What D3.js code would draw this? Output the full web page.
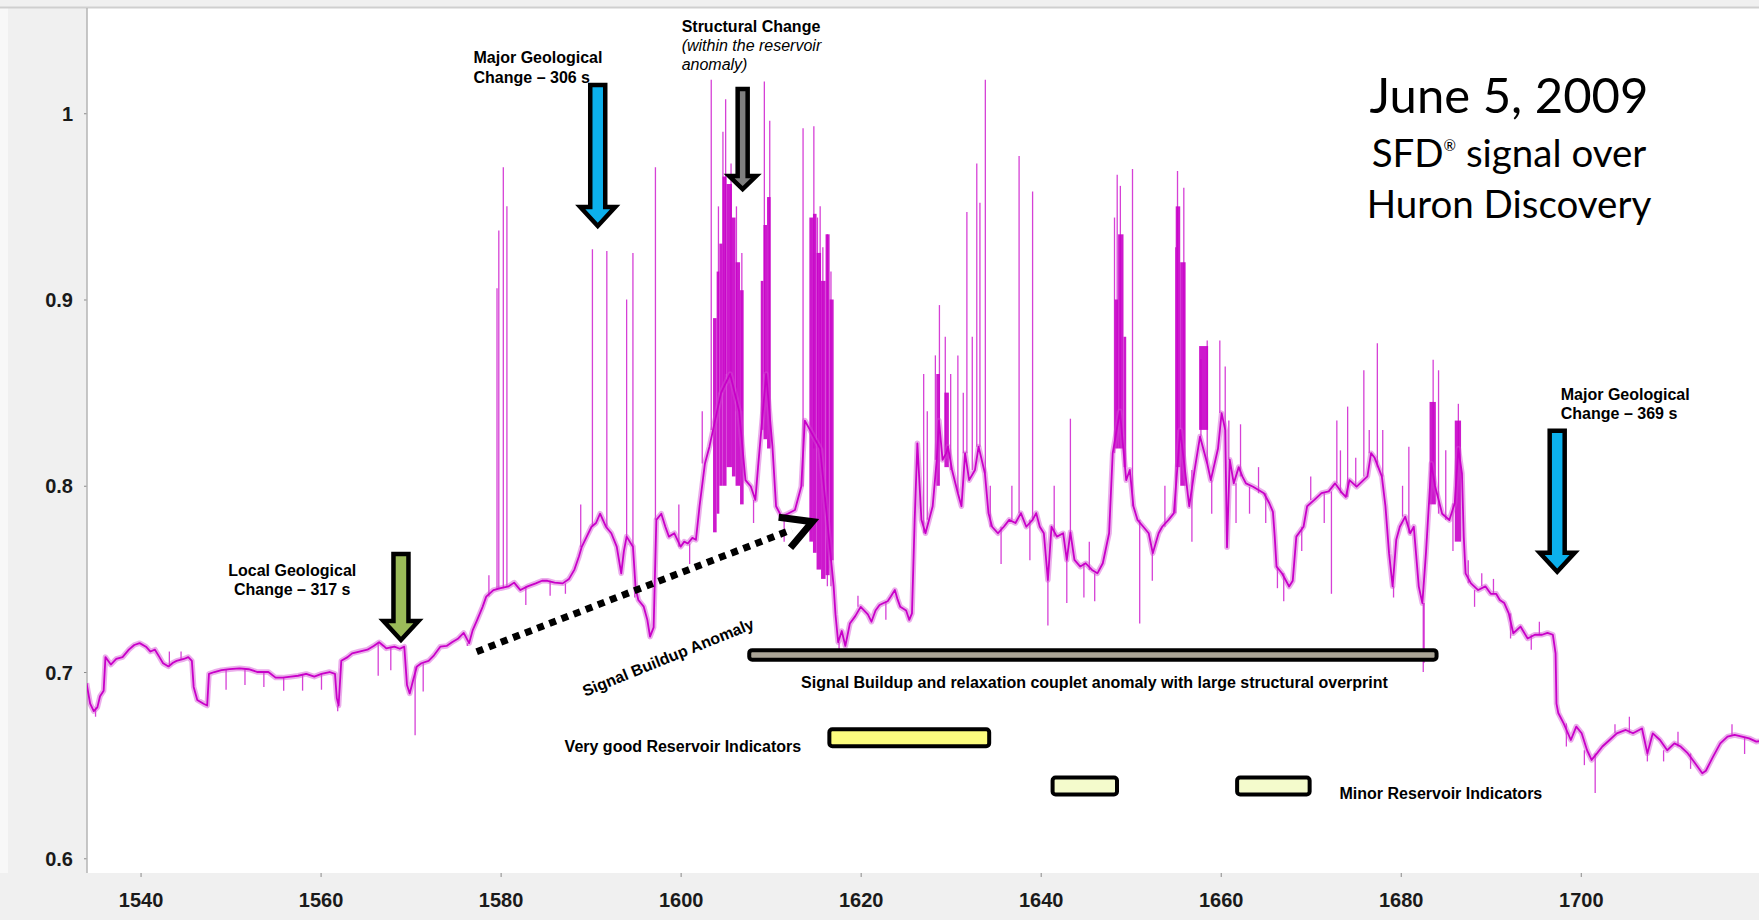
<!DOCTYPE html>
<html>
<head>
<meta charset="utf-8">
<script src="https://cdn.jsdelivr.net/npm/d3@7"></script>
<style>
body { margin: 0; background: #f0f0f0; }
svg { display: block; }
.tick text { font-family: "Liberation Sans", Arial, sans-serif; font-weight: bold; font-size: 20px; fill: #1a1a1a; }
.note { font-family: "Liberation Sans", Arial, sans-serif; font-weight: bold; font-size: 16px; fill: #000; }
.title { font-family: Lato, "Open Sans", sans-serif; fill: #000; text-anchor: middle; }
</style>
</head>
<body>
<div id="chart"></div>
<script>
// SFD signal, [seconds, value]
var sfdTrace = [
    [1534.0,0.694],[1534.4,0.683],[1534.8,0.679],[1535.2,0.681],[1535.5,0.687],[1535.9,0.690],
    [1536.1,0.708],[1536.7,0.704],[1537.3,0.707],[1538.0,0.708],[1538.7,0.712],[1539.3,0.7145],
    [1539.9,0.7155],[1540.6,0.7136],[1541.1,0.711],[1541.6,0.712],[1542.1,0.708],[1542.5,0.7047],
    [1543.1,0.703],[1543.6,0.705],[1544.0,0.706],[1544.8,0.707],[1545.3,0.708],[1545.7,0.706],
    [1545.9,0.692],[1546.3,0.685],[1547.0,0.683],[1547.4,0.682],[1547.6,0.699],[1548.2,0.700],
    [1549.0,0.701],[1549.9,0.7015],[1551.0,0.702],[1552.0,0.7015],[1553.0,0.700],[1554.2,0.700],
    [1555.0,0.697],[1555.8,0.697],[1556.7,0.6975],[1557.5,0.698],[1558.4,0.699],[1559.3,0.6975],
    [1560.1,0.699],[1561.0,0.700],[1561.6,0.699],[1561.8,0.686],[1562.0,0.682],[1562.3,0.706],
    [1563.0,0.708],[1563.5,0.710],[1564.3,0.711],[1565.2,0.712],[1565.9,0.714],[1566.5,0.716],
    [1567.0,0.714],[1567.3,0.7127],[1568.2,0.7136],[1568.8,0.7125],[1569.3,0.7136],[1569.6,0.693],
    [1569.9,0.6885],[1570.3,0.696],[1570.7,0.703],[1571.2,0.7047],[1572.0,0.706],[1572.6,0.709],
    [1573.3,0.7136],[1574.0,0.714],[1574.6,0.716],[1575.3,0.718],[1575.9,0.721],[1576.5,0.7155],
    [1576.9,0.7225],[1577.4,0.728],[1578.0,0.735],[1578.4,0.7405],[1579.2,0.744],[1580.0,0.745],
    [1580.9,0.746],[1581.5,0.748],[1582.2,0.744],[1583.0,0.746],[1583.9,0.7476],[1584.6,0.749],
    [1585.2,0.749],[1586.0,0.748],[1586.9,0.7476],[1587.6,0.750],[1588.2,0.755],[1588.7,0.762],
    [1589.0,0.767],[1589.5,0.772],[1590.1,0.778],[1590.6,0.780],[1591.05,0.785],[1591.7,0.778],
    [1592.3,0.7745],[1592.9,0.7673],[1593.4,0.753],[1593.7,0.765],[1594.0,0.7727],[1594.7,0.7673],
    [1595.0,0.745],[1595.3,0.7387],[1595.9,0.7351],[1596.3,0.728],[1596.6,0.719],[1597.0,0.724],
    [1597.3,0.7817],[1597.85,0.785],[1598.3,0.778],[1598.7,0.7727],[1599.3,0.7745],[1600.0,0.7673],
    [1600.4,0.770],[1600.8,0.769],[1601.3,0.772],[1601.7,0.771],[1602.1,0.789],[1602.7,0.812],
    [1603.2,0.821],[1603.6,0.83],[1604.5,0.85],[1605.5,0.86],[1606.5,0.84],[1607.2,0.803],
    [1607.8,0.7996],[1608.3,0.7924],[1608.6,0.81],[1609.5,0.86],[1610.2,0.821],[1610.6,0.789],
    [1611.2,0.7835],[1611.9,0.785],[1612.7,0.787],[1613.4,0.7996],[1613.8,0.835],[1615.5,0.82],
    [1617.0,0.746],[1617.2,0.731],[1617.5,0.716],[1617.9,0.722],[1618.3,0.714],[1618.8,0.726],
    [1619.4,0.730],[1620.0,0.735],[1620.8,0.731],[1621.2,0.727],[1621.65,0.733],[1622.1,0.736],
    [1622.5,0.7369],[1623.0,0.738],[1623.35,0.7405],[1623.8,0.744],[1624.1,0.739],[1624.4,0.735],
    [1625.05,0.733],[1625.4,0.728],[1625.7,0.7315],[1626.0,0.7817],[1626.3,0.8228],
    [1626.75,0.7817],[1627.2,0.7745],[1627.6,0.7817],[1628.0,0.789],[1628.45,0.8139],[1628.7,0.835],
    [1629.1,0.8139],[1629.5,0.8175],[1629.7,0.821],[1630.15,0.8085],[1630.8,0.796],[1631.2,0.789],
    [1631.6,0.8175],[1632.05,0.803],[1632.7,0.8085],[1633.1,0.821],[1633.8,0.8067],[1634.2,0.7853],
    [1634.6,0.778],[1635.25,0.7745],[1635.9,0.778],[1636.5,0.7817],[1637.2,0.780],[1637.8,0.7853],
    [1638.4,0.778],[1639.1,0.7817],[1639.5,0.7853],[1639.9,0.778],[1640.35,0.7745],[1640.8,0.7494],
    [1641.2,0.778],[1641.8,0.7727],[1642.5,0.7745],[1642.9,0.7602],[1643.3,0.775],[1643.75,0.7602],
    [1644.4,0.7566],[1645.0,0.7584],[1645.7,0.7548],[1646.3,0.753],[1646.9,0.7584],[1647.6,0.7745],
    [1648.0,0.8175],[1648.8,0.84],[1649.5,0.803],[1649.9,0.8085],[1650.3,0.789],[1650.75,0.7817],
    [1651.4,0.778],[1652.0,0.7745],[1652.45,0.7638],[1653.1,0.7745],[1653.5,0.778],[1654.2,0.7817],
    [1654.8,0.7853],[1655.5,0.83],[1656.5,0.789],[1657.1,0.8085],[1657.7,0.8264],[1658.5,0.812],
    [1658.9,0.803],[1659.7,0.82],[1660.1,0.839],[1660.5,0.83],[1660.7,0.767],[1661.0,0.814],
    [1661.45,0.8013],[1662.0,0.81],[1662.4,0.805],[1662.8,0.8013],[1663.6,0.7995],[1664.8,0.796],
    [1665.4,0.7906],[1665.8,0.786],[1666.0,0.7727],[1666.2,0.7566],[1666.8,0.753],[1667.6,0.7459],
    [1668.0,0.749],[1668.4,0.7727],[1669.2,0.778],[1669.6,0.789],[1670.4,0.7924],[1671.2,0.796],
    [1672.0,0.797],[1672.7,0.8013],[1673.5,0.796],[1673.9,0.794],[1674.3,0.803],[1675.1,0.7995],
    [1676.3,0.805],[1676.7,0.8175],[1677.1,0.815],[1677.5,0.810],[1677.9,0.805],[1678.3,0.789],
    [1678.7,0.7638],[1679.1,0.746],[1679.5,0.771],[1679.9,0.778],[1680.5,0.7834],[1681.05,0.7745],
    [1681.45,0.778],[1682.0,0.746],[1682.4,0.737],[1682.8,0.7638],[1683.4,0.812],[1683.8,0.800],
    [1684.6,0.785],[1685.4,0.7816],[1686.0,0.7906],[1686.4,0.820],[1686.8,0.8067],[1687.0,0.7727],
    [1687.2,0.753],[1687.8,0.7476],[1688.6,0.744],[1689.4,0.746],[1690.0,0.742],[1690.6,0.742],
    [1691.0,0.7387],[1691.5,0.737],[1692.0,0.7315],[1692.5,0.7208],[1693.3,0.7244],[1694.1,0.718],
    [1694.9,0.720],[1695.7,0.720],[1696.3,0.721],[1696.9,0.720],[1697.2,0.710],[1697.3,0.683],
    [1697.5,0.678],[1698.1,0.6724],[1698.9,0.6635],[1699.5,0.6707],[1700.1,0.6671],[1700.7,0.658],
    [1701.2,0.6528],[1701.8,0.6563],[1702.4,0.660],[1703.2,0.6635],[1704.0,0.6671],[1705.0,0.6689],
    [1705.8,0.6671],[1706.8,0.6697],[1707.4,0.6563],[1708.0,0.6671],[1708.8,0.6635],[1709.6,0.658],
    [1710.4,0.6617],[1711.1,0.660],[1711.9,0.6563],[1712.7,0.651],[1713.5,0.6456],[1713.9,0.647],
    [1714.7,0.6546],[1715.5,0.6617],[1716.3,0.6653],[1717.1,0.6662],[1717.9,0.6653],[1718.7,0.6644],
    [1719.5,0.6626],[1720.0,0.663]
];

// single-sample spikes, [seconds, peak value]
var sfdSpikes = [
    [1535.0,0.676],[1543.2,0.711],[1544.5,0.711],[1549.5,0.6905],[1551.6,0.693],[1553.7,0.692],
    [1555.9,0.690],[1558.0,0.690],[1560.1,0.6905],[1561.9,0.679],[1566.4,0.698],[1567.8,0.701],
    [1570.5,0.666],[1571.4,0.6895],[1576.3,0.714],[1578.7,0.752],[1579.6,0.906],[1579.8,0.937],
    [1580.3,0.971],[1580.7,0.950],[1582.8,0.736],[1585.5,0.741],[1587.2,0.742],
    [1588.9,0.79],[1590.2,0.927],[1591.8,0.926],[1594.0,0.900],[1594.7,0.925],[1594.9,0.740],
    [1597.2,0.971],[1599.8,0.79],[1601.0,0.758],[1602.4,0.84],[1603.4,1.018],[1604.2,0.95],
    [1604.7,0.99],[1605.0,1.0075],[1605.6,0.973],[1606.2,0.95],
    [1606.8,0.925],[1608.1,0.78],[1609.3,1.017],[1609.9,0.996],[1611.5,0.77],[1613.6,0.992],
    [1614.8,0.993],[1615.2,0.944],[1615.5,0.95],
    [1615.8,0.928],[1616.3,0.935],[1616.7,0.915],[1617.6,0.712],[1619.7,0.741],[1622.8,0.728],
    [1627.0,0.86],[1627.4,0.84],[1628.3,0.87],[1628.75,0.897],
    [1629.4,0.88],[1630.0,0.86],[1630.8,0.87],[1631.4,0.85],[1631.8,0.947],[1632.4,0.88],
    [1632.9,0.973],[1633.25,0.952],[1633.85,1.018],[1634.4,0.80],[1635.6,0.758],[1636.8,0.80],
    [1637.6,0.977],[1638.8,0.76],[1639.1,0.958],[1640.8,0.725],
    [1641.5,0.80],[1642.9,0.737],[1643.3,0.836],[1644.8,0.74],[1645.4,0.77],[1646.0,0.738],
    [1648.2,0.944],[1648.5,0.967],[1648.85,0.961],[1650.2,0.970],
    [1651.0,0.726],[1652.4,0.749],[1653.8,0.80],[1655.0,0.928],[1655.2,0.969],[1655.9,0.960],
    [1656.8,0.77],[1657.8,0.868],[1658.5,0.878],
    [1659.0,0.785],[1659.9,0.878],[1660.5,0.864],[1660.9,0.835],[1661.7,0.78],[1662.2,0.833],
    [1663.2,0.785],[1664.2,0.81],[1665.0,0.78],[1666.3,0.745],[1667.0,0.738],[1669.0,0.765],
    [1670.0,0.805],[1671.5,0.78],[1672.3,0.742],
    [1672.9,0.835],[1673.3,0.819],[1674.1,0.8425],[1675.0,0.815],[1675.9,0.862],[1676.5,0.83],
    [1677.4,0.8765],[1678.0,0.83],[1679.2,0.740],[1680.2,0.80],[1680.9,0.821],
    [1682.5,0.700],[1682.6,0.705],[1683.6,0.8676],[1684.2,0.862],[1685.0,0.819],[1685.8,0.765],
    [1686.4,0.844],[1687.5,0.76],[1688.2,0.735],[1689.0,0.753],[1690.3,0.75],[1692.2,0.718],
    [1694.5,0.712],[1695.4,0.727],[1698.4,0.66],[1700.4,0.65],[1701.6,0.635],[1703.8,0.672],
    [1705.4,0.676],[1707.4,0.652],[1709.2,0.652],[1710.8,0.668],[1712.2,0.648],[1716.8,0.672],
    [1718.2,0.656]
];

// dense bursts, [start s, end s, low, high]
var sfdBursts = [
    [1603.6,1604.0,0.775,0.89],[1604.0,1604.3,0.785,0.915],[1604.3,1604.65,0.80,0.93],
    [1604.65,1605.1,0.80,0.966],[1605.1,1605.7,0.81,0.962],[1605.7,1606.1,0.805,0.944],
    [1606.1,1606.6,0.80,0.92],[1606.6,1607.0,0.79,0.905],
    [1608.9,1609.2,0.83,0.91],[1609.2,1609.6,0.825,0.94],[1609.6,1610.0,0.82,0.955],
    [1614.3,1614.7,0.77,0.944],[1614.7,1615.1,0.764,0.946],[1615.1,1615.6,0.755,0.925],
    [1615.6,1616.1,0.75,0.91],[1616.1,1616.55,0.752,0.935],[1616.55,1617.0,0.76,0.90],
    [1628.4,1628.8,0.80,0.86],[1629.3,1629.8,0.81,0.85],
    [1648.2,1648.6,0.82,0.90],[1648.6,1649.2,0.82,0.935],[1649.2,1649.5,0.81,0.88],
    [1655.0,1655.5,0.81,0.95],[1655.5,1656.1,0.80,0.92],
    [1657.6,1658.6,0.83,0.875],[1683.2,1683.9,0.79,0.845],[1686.0,1686.7,0.77,0.835]
];

var xTicks = [1540, 1560, 1580, 1600, 1620, 1640, 1660, 1680, 1700];
var yTicks = [0.6, 0.7, 0.8, 0.9, 1];

// interval bars: [start s, end s, level, kind]
var bars = [
    [1607.4, 1684.2, 0.7092, "couplet"],
    [1616.3, 1634.5, 0.6647, "good"],
    [1641.1, 1648.7, 0.6388, "minor"],
    [1661.6, 1670.1, 0.6388, "minor"]
];
var barFill = {couplet: "#aaa496", good: "#fcfc7e", minor: "#f4fbcc"};
var barHeight = {couplet: 9.5, good: 17, minor: 17};

// block arrows: [seconds, top value, tip value, colour, size]
var arrows = [
    [1590.79, 1.0163, 0.9379, "#0cb0ec", "big"],
    [1606.89, 1.0141, 0.9577, "#7f7f7f", "small"],
    [1568.93, 0.7645, 0.7156, "#9bbb59", "big"],
    [1697.38, 0.8306, 0.7522, "#0cb0ec", "big"]
];

// notes: [seconds, value, lines, anchor]
var notes = [
    [1576.99, 1.0268, ["Major Geological", "Change \u2013 306 s"], "start"],
    [1556.85, 0.7516, ["Local Geological", "Change \u2013 317 s"], "middle"],
    [1697.78, 0.8461, ["Major Geological", "Change \u2013 369 s"], "start"],
    [1613.38, 0.6913, ["Signal Buildup and relaxation couplet anomaly with large structural overprint"], "start"],
    [1587.11, 0.6572, ["Very good Reservoir Indicators"], "start"],
    [1673.2, 0.6318, ["Minor Reservoir Indicators"], "start"]
];

var W = 1759, H = 920;
var margin = {top: 8, right: 0, bottom: 47, left: 87};

var svg = d3.select("#chart").append("svg")
    .attr("width", W)
    .attr("height", H);

var x = d3.scaleLinear().domain([1534.05, 1719.8]).range([margin.left, W - margin.right]);
var y = d3.scaleLinear().domain([0.5921, 1.0565]).range([H - margin.bottom, margin.top]);

svg.append("rect").attr("x", 0).attr("y", 0).attr("width", W).attr("height", H).style("fill", "#f0f0f0");
svg.append("rect").attr("x", 0).attr("y", margin.top).attr("width", 8).attr("height", H - margin.top - margin.bottom)
    .style("fill", "#f8f8f8");
svg.append("rect")
    .attr("x", margin.left).attr("y", margin.top)
    .attr("width", W - margin.left - margin.right)
    .attr("height", H - margin.top - margin.bottom)
    .style("fill", "#fff");
svg.append("line")
    .attr("x1", 0).attr("x2", W).attr("y1", margin.top - 0.5).attr("y2", margin.top - 0.5)
    .style("stroke", "#cfcfcf").style("stroke-width", 2);

svg.append("clipPath").attr("id", "plot-clip")
    .append("rect")
    .attr("x", margin.left).attr("y", margin.top)
    .attr("width", W - margin.left - margin.right)
    .attr("height", H - margin.top - margin.bottom);

// axes
var xAxis = svg.append("g")
    .attr("transform", "translate(0," + (H - margin.bottom) + ")")
    .call(d3.axisBottom(x).tickValues(xTicks).tickSize(4).tickPadding(15.5).tickFormat(d3.format("d")));
xAxis.select(".domain").remove();
xAxis.selectAll(".tick line").style("stroke", "#8a8a8a");

var yAxis = svg.append("g")
    .attr("transform", "translate(" + margin.left + ",0)")
    .call(d3.axisLeft(y).tickValues(yTicks).tickSize(3).tickPadding(11).tickFormat(function(d) { return d3.format("~g")(d); }));
yAxis.select(".domain").remove();
yAxis.selectAll(".tick line").style("stroke", "#8a8a8a");
yAxis.selectAll(".tick text").attr("dy", "0.36em");

svg.append("line")
    .attr("x1", margin.left).attr("x2", margin.left)
    .attr("y1", margin.top).attr("y2", H - margin.bottom)
    .style("stroke", "#b4b4b4").style("stroke-width", 1.5);

// signal
var plot = svg.append("g").attr("clip-path", "url(#plot-clip)");
var magenta = "#c800c8";

var bisect = d3.bisector(function(d) { return d[0]; }).left;
function baseAt(t) {
    var i = Math.min(bisect(sfdTrace, t), sfdTrace.length - 1);
    var a = sfdTrace[Math.max(i - 1, 0)], b = sfdTrace[i];
    return (t - a[0] < b[0] - t) ? a[1] : b[1];
}

plot.selectAll(".spike")
    .data(sfdSpikes)
    .enter().append("line")
    .attr("class", "spike")
    .attr("x1", function(d) { return x(d[0]); })
    .attr("x2", function(d) { return x(d[0]); })
    .attr("y1", function(d) { return y(baseAt(d[0])); })
    .attr("y2", function(d) { return y(d[1]); })
    .style("stroke", magenta)
    .style("stroke-opacity", 0.75)
    .style("stroke-width", 1.3);

plot.selectAll(".burst")
    .data(sfdBursts)
    .enter().append("rect")
    .attr("class", "burst")
    .attr("x", function(d) { return x(d[0]); })
    .attr("width", function(d) { return x(d[1]) - x(d[0]); })
    .attr("y", function(d) { return y(d[3]); })
    .attr("height", function(d) { return y(d[2]) - y(d[3]); })
    .style("fill", magenta)
    .style("fill-opacity", 0.9);

var line = d3.line()
    .x(function(d) { return x(d[0]); })
    .y(function(d) { return y(d[1]); });

plot.append("path")
    .datum(sfdTrace)
    .attr("d", line)
    .style("fill", "none")
    .style("stroke", "#d24ad2")
    .style("stroke-opacity", 0.45)
    .style("stroke-width", 5.5)
    .style("stroke-linejoin", "round");

plot.append("path")
    .datum(sfdTrace)
    .attr("d", line)
    .style("fill", "none")
    .style("stroke", magenta)
    .style("stroke-width", 1.8)
    .style("stroke-linejoin", "round");

// interval bars
svg.selectAll(".bar")
    .data(bars)
    .enter().append("rect")
    .attr("class", "bar")
    .attr("x", function(d) { return x(d[0]) + 2; })
    .attr("width", function(d) { return x(d[1]) - x(d[0]) - 4; })
    .attr("y", function(d) { return y(d[2]) - barHeight[d[3]] / 2; })
    .attr("height", function(d) { return barHeight[d[3]]; })
    .attr("rx", 3)
    .style("fill", function(d) { return barFill[d[3]]; })
    .style("stroke", "#000")
    .style("stroke-width", 4);

// block arrows
var arrowSize = {big: {shaft: 7.5, head: 17.5, len: 19}, small: {shaft: 5, head: 13.5, len: 13}};
svg.selectAll(".arrow")
    .data(arrows)
    .enter().append("path")
    .attr("class", "arrow")
    .attr("d", function(d) {
        var s = arrowSize[d[4]], cx = x(d[0]), top = y(d[1]) + 2, tip = y(d[2]) - 3, hy = tip - s.len;
        return "M" + (cx - s.shaft) + "," + top + "H" + (cx + s.shaft) + "V" + hy + "H" + (cx + s.head) +
            "L" + cx + "," + tip + "L" + (cx - s.head) + "," + hy + "H" + (cx - s.shaft) + "Z";
    })
    .style("fill", function(d) { return d[3]; })
    .style("stroke", "#000")
    .style("stroke-width", 4.5)
    .style("stroke-linejoin", "miter");

// dotted buildup arrow
var dotFrom = [1577.34, 0.7109], dotTo = [1614.64, 0.7807];
var x0 = x(dotFrom[0]), y0 = y(dotFrom[1]), x1 = x(dotTo[0]), y1 = y(dotTo[1]);
var ang = Math.atan2(y1 - y0, x1 - x0);
svg.append("line")
    .attr("x1", x0).attr("y1", y0)
    .attr("x2", x1 - 22 * Math.cos(ang)).attr("y2", y1 - 22 * Math.sin(ang))
    .style("stroke", "#000")
    .style("stroke-width", 7)
    .style("stroke-dasharray", "7,6");
var back = ang + Math.PI, armLen = 34, spread = 0.5;
svg.append("path")
    .attr("d", "M" + (x1 + armLen * Math.cos(back - spread)) + "," + (y1 + armLen * Math.sin(back - spread)) +
        "L" + x1 + "," + y1 +
        "L" + (x1 + armLen * Math.cos(back + spread)) + "," + (y1 + armLen * Math.sin(back + spread)))
    .style("fill", "none")
    .style("stroke", "#000")
    .style("stroke-width", 7)
    .style("stroke-linejoin", "miter");

// notes
notes.forEach(function(n) {
    var t = svg.append("text")
        .attr("class", "note")
        .attr("x", x(n[0]))
        .attr("y", y(n[1]))
        .style("text-anchor", n[3]);
    n[2].forEach(function(s, i) {
        t.append("tspan").attr("x", x(n[0])).attr("dy", i ? 19.4 : 0).text(s);
    });
});

var sc = svg.append("text")
    .attr("class", "note")
    .attr("x", x(1600.11))
    .attr("y", y(1.0438));
sc.append("tspan").attr("x", x(1600.11)).text("Structural Change");
sc.append("tspan").attr("x", x(1600.11)).attr("dy", 19).style("font-weight", "normal").style("font-style", "italic")
    .text("(within the reservoir");
sc.append("tspan").attr("x", x(1600.11)).attr("dy", 19).style("font-weight", "normal").style("font-style", "italic")
    .text("anomaly)");

svg.append("text")
    .attr("class", "note")
    .attr("transform", "translate(" + x(1589.39) + "," + y(0.6867) + ") rotate(-22)")
    .text("Signal Buildup Anomaly");

// title block
var title = svg.append("g").attr("transform", "translate(1509,0)");
title.append("text").attr("class", "title").attr("y", 113).style("font-size", "49px").text("June 5, 2009");
var t2 = title.append("text").attr("class", "title").attr("y", 167).style("font-size", "38.5px");
t2.append("tspan").text("SFD");
t2.append("tspan").attr("dy", -16).style("font-size", "15px").text("\u00ae");
t2.append("tspan").attr("dy", 16).text(" signal over");
title.append("text").attr("class", "title").attr("y", 218).style("font-size", "38.5px").text("Huron Discovery");
</script>
</body>
</html>
